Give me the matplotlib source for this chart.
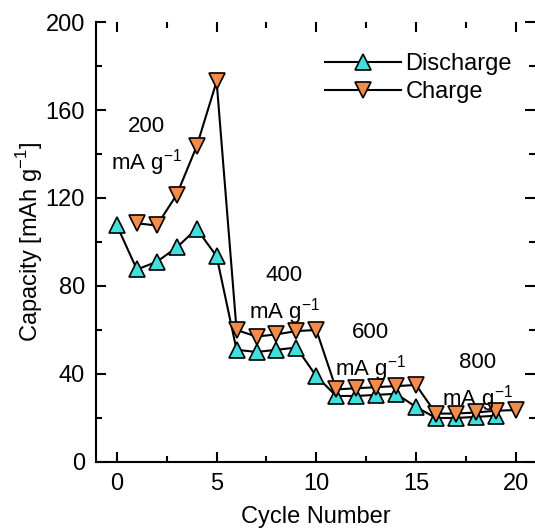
import matplotlib
matplotlib.use("Agg")
import matplotlib.pyplot as plt
from matplotlib.ticker import MultipleLocator

plt.rcParams['font.family'] = ['Liberation Sans', 'DejaVu Sans']
plt.rcParams['mathtext.fontset'] = 'custom'
plt.rcParams['mathtext.rm'] = 'Liberation Sans'

# rate capability data
cycles_dis = list(range(0, 20))
discharge = [107.5, 87.5, 91, 97.5, 106, 93.5,
             51, 50, 51, 52, 39,
             30, 30, 30.5, 31, 25,
             20, 20, 20.5, 21]
cycles_ch = list(range(1, 21))
charge = [108.5, 107.5, 121.5, 143.5, 173,
          60, 57, 58, 59.5, 60,
          33, 33.5, 34, 34.5, 35,
          22, 22, 22.5, 23.3, 23.6]

rate_labels = ['200\nmA g$^{-1}$', '400\nmA g$^{-1}$', '600\nmA g$^{-1}$', '800\nmA g$^{-1}$']
rate_pos = [(1.5, 143), (8.4, 75.5), (12.7, 49.5), (18.1, 36)]

cyan = '#3FE0DE'
orange = '#F28C48'

fig = plt.figure(figsize=(5.35, 5.29), dpi=100)
ax = fig.add_axes([0.1794, 0.1267, 0.82, 0.8317])

ax.plot(cycles_dis, discharge, '-^', color='black', lw=1.5, mfc=cyan, mec='black',
        mew=1.2, ms=11, label='Discharge', zorder=3)
ax.plot(cycles_ch, charge, '-v', color='black', lw=1.5, mfc=orange, mec='black',
        mew=1.2, ms=11, label='Charge', zorder=3)

for txt, (x, y) in zip(rate_labels, rate_pos):
    ax.text(x, y, txt, ha='center', va='center', fontsize=16, linespacing=1.45)

ax.set_xlim(-1.05, 20.95)
ax.set_ylim(0, 200)
ax.xaxis.set_major_locator(MultipleLocator(5))
ax.xaxis.set_minor_locator(MultipleLocator(2.5))
ax.yaxis.set_major_locator(MultipleLocator(40))
ax.yaxis.set_minor_locator(MultipleLocator(20))
ax.tick_params(which='both', direction='in', top=True, right=True, width=1.5,
               labelsize=17)
ax.tick_params(which='major', length=7)
ax.tick_params(which='minor', length=4)
ax.tick_params(axis='x', pad=8)
ax.tick_params(axis='y', pad=8)

for s in ['top', 'right']:
    ax.spines[s].set_visible(False)
for s in ['left', 'bottom']:
    ax.spines[s].set_linewidth(1.5)

ax.set_xlabel('Cycle Number', fontsize=17, labelpad=8)
ax.set_ylabel('Capacity [mAh g$^{-1}$]', fontsize=17, labelpad=0)

ax.legend(loc='upper right', bbox_to_anchor=(0.97, 0.95), frameon=False, fontsize=17,
          handlelength=3.2, handletextpad=0.2, labelspacing=0.25, borderaxespad=0.0)

fig.savefig('out.png', dpi=100)
